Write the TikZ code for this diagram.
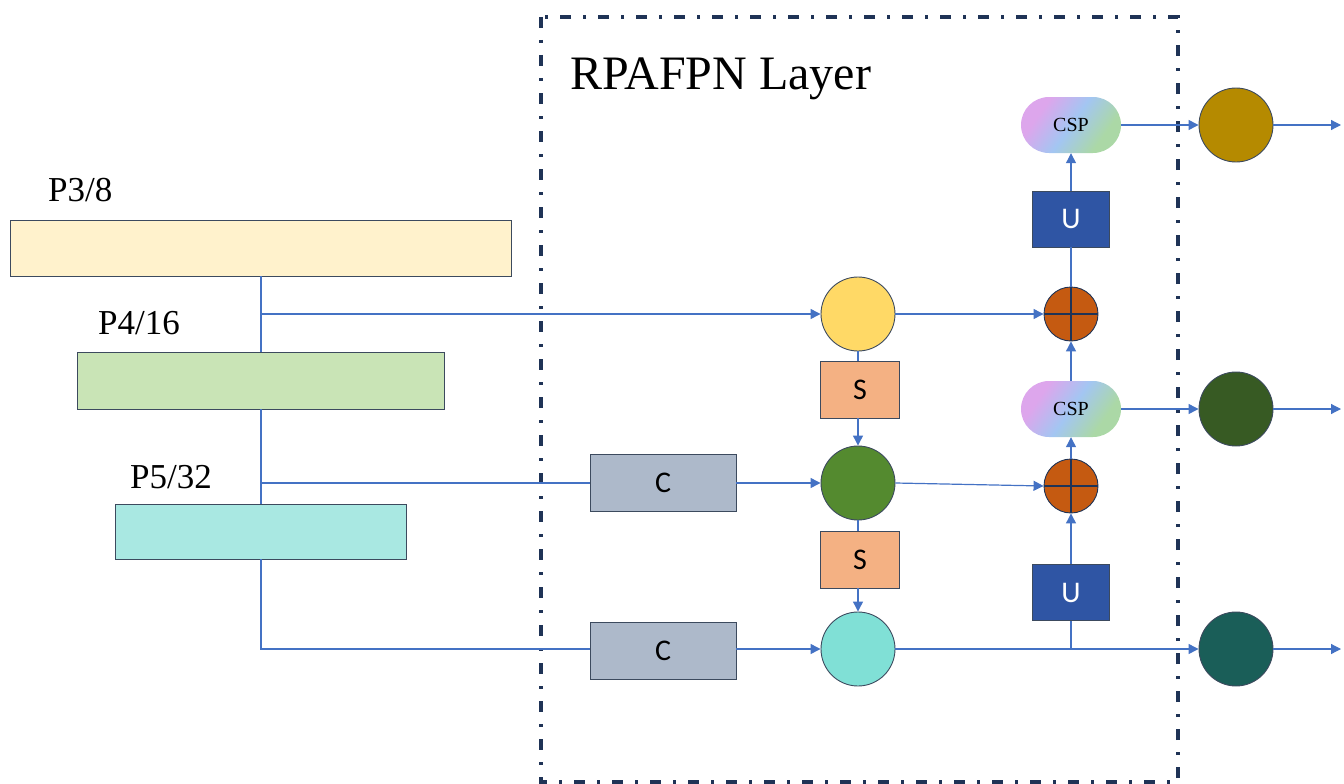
\documentclass[tikz,border=0pt]{standalone}
\usepackage{fontspec}
\setmainfont{Liberation Serif}
\newfontfamily\calib{Carlito}
\usetikzlibrary{arrows.meta}
\definecolor{lnc}{HTML}{4472C4}
\definecolor{bdc}{HTML}{3C4A5E}
\definecolor{navy}{HTML}{1F3356}
\definecolor{pthree}{HTML}{FFF2CC}
\definecolor{pfour}{HTML}{C9E4B6}
\definecolor{pfive}{HTML}{A9E8E2}
\definecolor{ccol}{HTML}{ADB9CA}
\definecolor{scol}{HTML}{F4B183}
\definecolor{ucol}{HTML}{2F55A4}
\definecolor{ycol}{HTML}{FFD966}
\definecolor{gcol}{HTML}{548A2F}
\definecolor{tcol}{HTML}{80E0D6}
\definecolor{pcol}{HTML}{C55A11}
\definecolor{oone}{HTML}{B58A00}
\definecolor{otwo}{HTML}{375A23}
\definecolor{othree}{HTML}{1A5E58}
\definecolor{cspa}{HTML}{DDA6EC}
\definecolor{cspb}{HTML}{A3C6F2}
\definecolor{cspc}{HTML}{ABD8A6}
\pgfdeclarehorizontalshading{cspshade}{100bp}{color(0bp)=(cspa); color(30bp)=(cspa); color(50bp)=(cspb); color(70bp)=(cspc); color(100bp)=(cspc)}
\begin{document}
\begin{tikzpicture}[x=1pt,y=-1pt,
  ln/.style={draw=lnc, line width=1.2pt},
  arr/.style={ln, -{Triangle[length=10pt,width=10pt]}},
  fbox/.style={draw=bdc, line width=0.9pt, inner sep=0pt},
  lbl/.style={anchor=base west, inner sep=0pt, font=\fontsize{35}{40}\selectfont},
  cbox/.style={fbox, fill=ccol, minimum width=146, minimum height=57, font=\calib\fontsize{30}{36}\selectfont},
  sbox/.style={fbox, fill=scol, minimum width=79, minimum height=57, font=\calib\fontsize{30}{36}\selectfont},
  ubox/.style={fbox, fill=ucol, minimum width=77, minimum height=56, text=white, font=\calib\fontsize{30}{36}\selectfont},
  circ/.style={circle, draw=bdc, line width=0.9pt, minimum size=74, inner sep=0pt},
  plus/.style={circle, draw=navy, line width=0.9pt, fill=pcol, minimum size=54, inner sep=0pt,
    path picture={\draw[navy, line width=1.2pt] (path picture bounding box.north) -- (path picture bounding box.south) (path picture bounding box.west) -- (path picture bounding box.east);}},
  csp/.style={rounded corners=28pt, shading=cspshade, shading angle=-35, minimum width=100, minimum height=56, inner sep=0pt, font=\fontsize{20}{24}\selectfont}
]
\useasboundingbox (0,0) rectangle (1344,784);
% dashed layer frame
\draw[navy, line width=4pt, dash pattern=on 11pt off 12pt on 3pt off 12pt] (541,17) rectangle (1178,782);
\node[anchor=base west, inner sep=0pt, font=\fontsize{48}{55}\selectfont] (title) at (570,89) {RPAFPN Layer};
% backbone boxes
\node[fbox, fill=pthree, minimum width=501, minimum height=56] (p3) at (261,248) {};
\node[fbox, fill=pfour, minimum width=367, minimum height=57] (p4) at (261,380.5) {};
\node[fbox, fill=pfive, minimum width=291, minimum height=55] (p5) at (261,531.5) {};
\node[lbl] (l3) at (48,201) {P3/8};
\node[lbl] (l4) at (98,334) {P4/16};
\node[lbl] (l5) at (130,488) {P5/32};
% C boxes
\node[cbox] (c1) at (663,483) {C};
\node[cbox] (c2) at (663,651) {C};
% middle column
\node[circ, fill=ycol] (y1) at (858,314) {};
\node[sbox] (s1) at (860,389.5) {S};
\node[circ, fill=gcol] (g1) at (858,483) {};
\node[sbox] (s2) at (860,559.5) {S};
\node[circ, fill=tcol] (t1) at (858,649) {};
% right column
\node[plus] (a1) at (1071,314) {};
\node[plus] (a2) at (1071,486) {};
\node[ubox] (u1) at (1071,219) {U};
\node[ubox] (u2) at (1071,592.5) {U};
\node[csp] (k1) at (1071,125) {CSP};
\node[csp] (k2) at (1071,409) {CSP};
% outputs
\node[circ, fill=oone] (o1) at (1236,125) {};
\node[circ, fill=otwo] (o2) at (1236,409) {};
\node[circ, fill=othree] (o3) at (1236,649) {};
\coordinate (e1) at (1341,125);
\coordinate (e2) at (1341,409);
\coordinate (e3) at (1341,649);
\coordinate (j1) at (261,314);
\coordinate (j2) at (261,483);
\coordinate (j3) at (1071,649);
% backbone trunk
\draw[ln] (p3.south) -- (p4.north);
\draw[ln] (p4.south) -- (p5.north);
\draw[ln] (p5.south) |- (c2.west |- t1);
\draw[arr] (j1) -- (y1.west);
\draw[ln] (j2) -- (c1.west);
\draw[arr] (c1.east) -- (g1.west);
\draw[arr] (c2.east |- t1) -- (t1.west);
% middle column
\draw[ln] (y1.south) -- (y1.south |- s1.north);
\draw[arr] (g1.north |- s1.south) -- (g1.north);
\draw[ln] (g1.south) -- (g1.south |- s2.north);
\draw[arr] (t1.north |- s2.south) -- (t1.north);
% right column
\draw[arr] (y1.east) -- (a1.west);
\draw[arr] (g1.east) -- (a2.west);
\draw[ln] (a1.north) -- (u1.south);
\draw[arr] (u1.north) -- (k1.south);
\draw[arr] (a2.north) -- (k2.south);
\draw[arr] (k2.north) -- (a1.south);
\draw[arr] (u2.north) -- (a2.south);
\draw[ln] (u2.south) -- (j3);
\draw[arr] (t1.east) -- (o3.west);
\draw[arr] (k1.east) -- (o1.west);
\draw[arr] (k2.east) -- (o2.west);
\draw[arr] (o1.east) -- (e1);
\draw[arr] (o2.east) -- (e2);
\draw[arr] (o3.east) -- (e3);
\end{tikzpicture}
\end{document}
